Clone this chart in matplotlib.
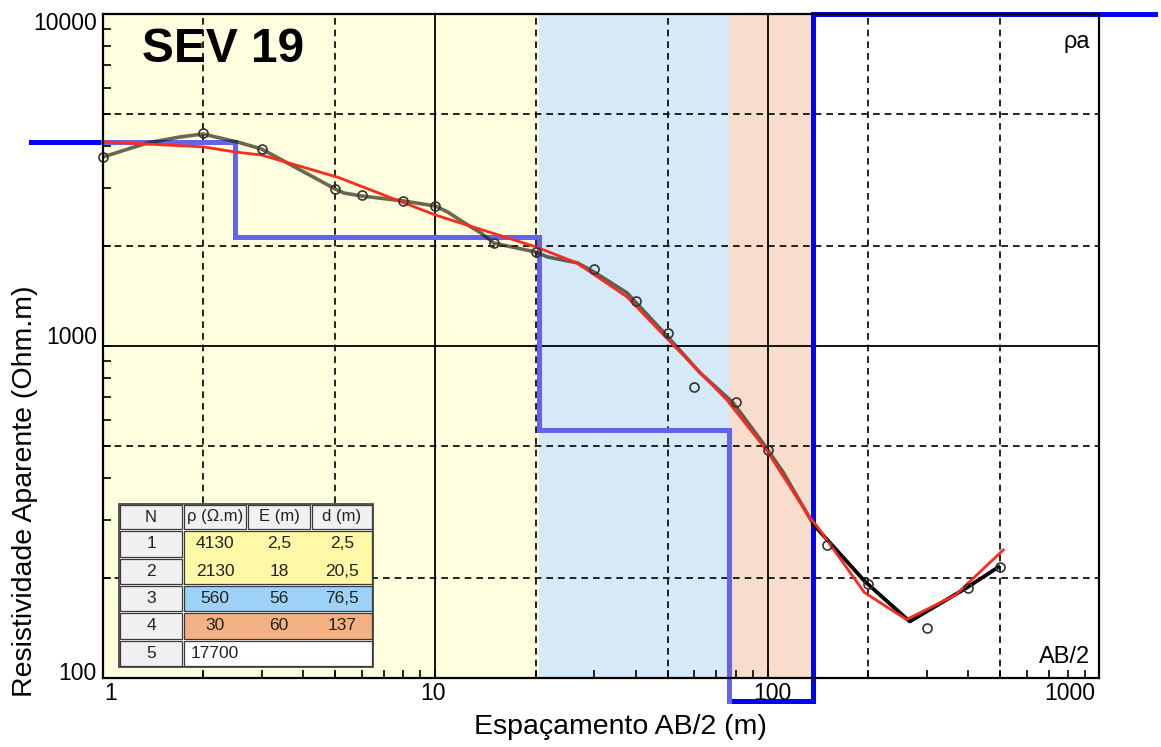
import numpy as np
import matplotlib
matplotlib.use("Agg")
import matplotlib.pyplot as plt
from matplotlib.patches import Rectangle
from matplotlib.ticker import LogLocator, NullFormatter

# ---------------- SEV 19 data ----------------
# field measurements (AB/2 in m, apparent resistivity in Ohm.m)
ab2 = [1, 2, 3, 5, 6, 8, 10, 15, 20, 30, 40, 50, 60, 80, 100, 150, 200, 300, 400, 500]
rho_a = [3710, 4380, 3920, 2970, 2850, 2735, 2640, 2040, 1920, 1706, 1366, 1094,
         752, 678, 486, 252, 192, 141, 187, 216]

# smoothed field curve
curve_ab2 = [1.0, 1.36, 1.7, 2.0, 2.55, 3.0, 5.0, 5.3, 6.0, 8.0, 10, 10.9, 12.5, 13.7,
             15, 20, 21.7, 26.7, 30, 37.7, 50, 62.5, 78.5, 96.6, 111, 137, 196, 267,
             396, 494]
curve_rho = [3710, 4090, 4260, 4350, 4110, 3920, 2970, 2890, 2830, 2735, 2640, 2530,
             2315, 2190, 2040, 1920, 1855, 1780, 1670, 1445, 1065, 830, 675, 510, 417,
             290, 195, 148, 187, 216]

# response of the layered model
model_ab2 = [1.0, 2.0, 2.5, 3.0, 5.1, 10, 20, 26.6, 37.7, 52, 75, 99, 133, 141, 195,
             261, 367, 510]
model_rho = [4120, 3980, 3840, 3760, 3220, 2480, 1990, 1780, 1405, 1005, 690, 486, 306,
             285, 181, 150, 178, 243]

# layered model (interpretation)
layer_n = [1, 2, 3, 4, 5]
layer_rho = [4130, 2130, 560, 30, 17700]
layer_e = [2.5, 18, 56, 60]
layer_d = [2.5, 20.5, 76.5, 137]

x_ticks = [1, 10, 100, 1000]
y_ticks = [100, 1000, 10000]

# ---------------- styling ----------------
plt.rcParams['font.family'] = ['Liberation Sans', 'DejaVu Sans']
TABLE_FONT = ['Liberation Sans', 'DejaVu Sans']

band_colors = ['#FFFFE0', '#FFFFE0', '#D6E9F8', '#F8DDCD', None]
cell_colors = ['#FFF8A6', '#FFF8A6', '#9DD1F5', '#F4B183', '#FFFFFF']

W, H = 1161, 747
XLIM = (1, 990)
YLIM = (100, 10000)
STEP_X = (0.608, 1460)      # horizontal reach of the model staircase
STEP_Y = (85, 10000)        # vertical reach of the model staircase

fig = plt.figure(figsize=(W / 100, H / 100), dpi=100)
fig.patch.set_facecolor('white')
ax = fig.add_axes([103 / W, (H - 678) / H, 996 / W, 664 / H])
ax.set_xscale('log')
ax.set_yscale('log')
ax.set_xlim(*XLIM)
ax.set_ylim(*YLIM)

# layer bands
tops = [XLIM[0]] + layer_d
bottoms = layer_d + [XLIM[1]]
for t, b, c in zip(tops, bottoms, band_colors):
    if c is not None:
        ax.axvspan(t, b, color=c, zorder=0, lw=0)

# grid: solid on decades, dashed on 2 and 5
for dec in [10, 100]:
    ax.axvline(dec, color='black', lw=1.3, zorder=1)
ax.axhline(1000, color='black', lw=1.3, zorder=1)
dash = (0, (4, 3))
for dec in [1, 10, 100]:
    for m in [2, 5]:
        ax.axvline(dec * m, color='black', lw=1.2, ls=dash, zorder=1)
for dec in [100, 1000]:
    for m in [2, 5]:
        ax.axhline(dec * m, color='black', lw=1.2, ls=dash, zorder=1)

# model staircase
def staircase(rho, depth, x0, x1):
    xs, ys = [x0], [rho[0]]
    for k, dk in enumerate(depth):
        xs += [dk, dk]
        ys += [rho[k], rho[k + 1]]
    xs.append(x1)
    ys.append(rho[-1])
    return np.array(xs, float), np.array(ys, float)

sx, sy = staircase(layer_rho, layer_d, *STEP_X)
sy = np.clip(sy, *STEP_Y)
ax.plot(sx, sy, color='#0000FF', lw=3.6, zorder=2, clip_on=False,
        solid_joinstyle='miter')
inner_x = sx[:7].copy()
inner_x[0] = XLIM[0]
ax.plot(inner_x, sy[:7], color='#6464EA', lw=3.6, zorder=2.1, clip_on=False,
        solid_joinstyle='miter')

# field curve
cx = np.array(curve_ab2)
cy = np.array(curve_rho)
ax.plot(cx, cy, color='#202008', alpha=0.68, lw=2.6, zorder=3)
tail = cx >= layer_d[-1]
ax.plot(cx[tail], cy[tail], color='black', lw=2.6, zorder=3.1)

# model response
ax.plot(model_ab2, model_rho, color='#FF2A1E', lw=2.0, zorder=4)

# measured points
ax.plot(ab2, rho_a, ls='none', marker='o', ms=6.5, mfc='none', mec='#333333',
        mew=1.2, zorder=5, clip_on=False)

# axes frame and ticks
for s in ax.spines.values():
    s.set_linewidth(1.6)
    s.set_color('black')
    s.set_zorder(6)
ax.xaxis.set_major_locator(LogLocator(base=10, numticks=10))
ax.yaxis.set_major_locator(LogLocator(base=10, numticks=10))
ax.xaxis.set_minor_locator(LogLocator(base=10, subs=np.arange(2, 10), numticks=20))
ax.yaxis.set_minor_locator(LogLocator(base=10, subs=np.arange(2, 10), numticks=20))
ax.xaxis.set_minor_formatter(NullFormatter())
ax.yaxis.set_minor_formatter(NullFormatter())
ax.tick_params(which='both', direction='in', length=6, width=1.2, top=False,
               right=False, labelbottom=False, labelleft=False)

x_label_dx = [8, -2, 4, -31]
for val, dx in zip(x_ticks, x_label_dx):
    ax.annotate(f'{val}', xy=(val, 0), xycoords=('data', 'axes fraction'),
                xytext=(dx, -15), textcoords='offset pixels', ha='center',
                va='center', fontsize=16.5, annotation_clip=False)
y_label_dy = [5, 8, -9]
for val, dy in zip(y_ticks, y_label_dy):
    ax.annotate(f'{val}', xy=(0, val), xycoords=('axes fraction', 'data'),
                xytext=(-6, dy), textcoords='offset pixels', ha='right',
                va='center', fontsize=16.5, annotation_clip=False)

ax.text(0.991, 0.958, 'ρa', transform=ax.transAxes, ha='right', va='center',
        fontsize=17, zorder=7)
ax.text(0.991, 0.0316, 'AB/2', transform=ax.transAxes, ha='right', va='center',
        fontsize=17, zorder=7)

fig.text(142 / W, 1 - 50 / H, 'SEV 19', fontsize=34.5, fontweight='bold',
         ha='left', va='center')
fig.text(620 / W, 1 - 727 / H, 'Espaçamento AB/2 (m)', fontsize=20.5,
         ha='center', va='center')
fig.text(25 / W, 1 - 491 / H, 'Resistividade Aparente (Ohm.m)', fontsize=20.5,
         rotation=90, ha='center', va='center')

# ---------------- layer table ----------------
tab = fig.add_axes([0, 0, 1, 1], zorder=10)
tab.set_xlim(0, W)
tab.set_ylim(H, 0)
tab.axis('off')

col_edges = [119, 183, 247, 311, 373]
row_edges = [504, 530, 558, 585, 612, 640, 667]
edge = '#3a3a3a'
gray = '#F0F0F0'

tab.add_patch(Rectangle((col_edges[0], row_edges[0]), col_edges[-1] - col_edges[0],
                        row_edges[-1] - row_edges[0], fc='white', ec=edge, lw=1.2))

def cell(x0, x1, y0, y1, fc):
    tab.add_patch(Rectangle((x0 + 1, y0 + 1), x1 - x0 - 2, y1 - y0 - 2, fc=fc,
                            ec=edge, lw=0.9))

headers = ['N', 'ρ (Ω.m)', 'E (m)', 'd (m)']
for j, h in enumerate(headers):
    cell(col_edges[j], col_edges[j + 1], row_edges[0], row_edges[1], gray)
    tab.text((col_edges[j] + col_edges[j + 1]) / 2, (row_edges[0] + row_edges[1]) / 2,
             h, ha='center', va='center', fontsize=12, family=TABLE_FONT,
             color='#222222')

# colored value blocks (adjacent rows of same colour merged)
i = 0
while i < len(layer_n):
    j = i
    while j + 1 < len(layer_n) and cell_colors[j + 1] == cell_colors[i]:
        j += 1
    cell(col_edges[1], col_edges[-1], row_edges[i + 1], row_edges[j + 2], cell_colors[i])
    i = j + 1

def fmt(v):
    return f'{v:g}'.replace('.', ',')

for i, n in enumerate(layer_n):
    y0, y1 = row_edges[i + 1], row_edges[i + 2]
    yc = (y0 + y1) / 2
    cell(col_edges[0], col_edges[1], y0, y1, gray)
    vals = [str(n), fmt(layer_rho[i])]
    if i < len(layer_e):
        vals += [fmt(layer_e[i]), fmt(layer_d[i])]
    for j, v in enumerate(vals):
        tab.text((col_edges[j] + col_edges[j + 1]) / 2, yc, v, ha='center',
                 va='center', fontsize=12.5, family=TABLE_FONT, color='#222222')

fig.savefig('out.png', dpi=100)
